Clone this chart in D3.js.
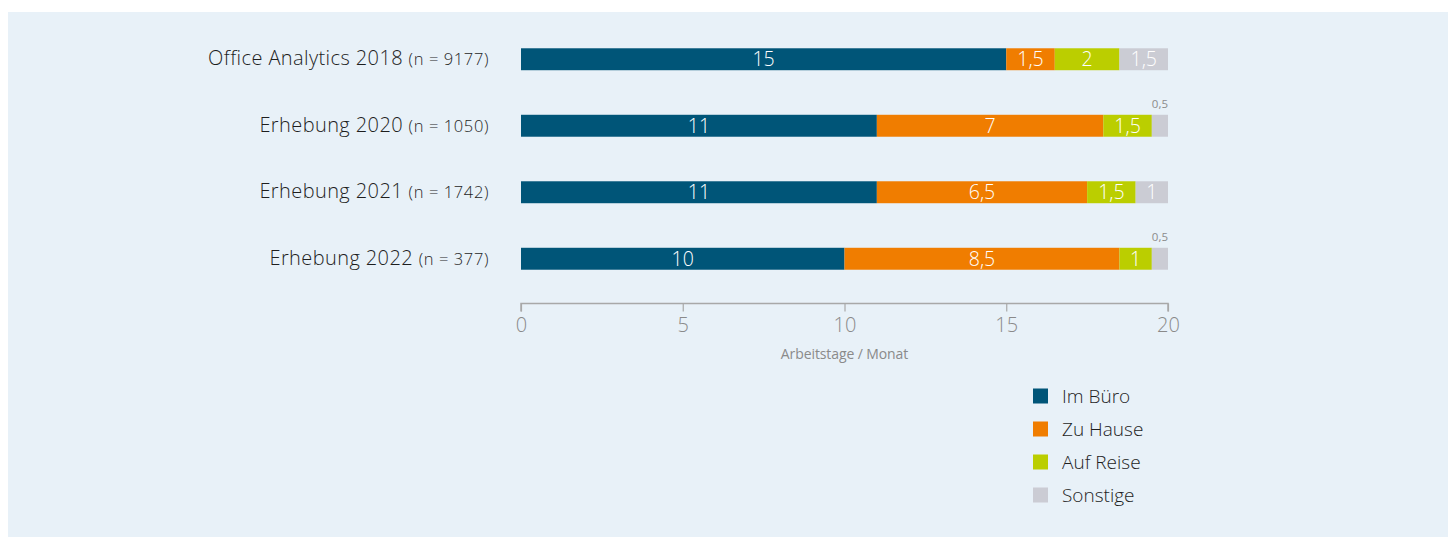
<!DOCTYPE html>
<html><head><meta charset="utf-8">
<script src="https://cdn.jsdelivr.net/npm/d3@7"></script>
<style>
html,body{margin:0;padding:0;background:#fff;}
svg{display:block;}
text{font-family:"Open Sans",sans-serif;}
</style></head>
<body>
<svg id="chart" width="1448" height="537"></svg>
<script>
const categories = ["Office Analytics 2018", "Erhebung 2020", "Erhebung 2021", "Erhebung 2022"];
const sampleSizes = ["(n = 9177)", "(n = 1050)", "(n = 1742)", "(n = 377)"];
const seriesNames = ["Im Büro", "Zu Hause", "Auf Reise", "Sonstige"];
const imBuero = [15, 11, 11, 10];
const zuHause = [1.5, 7, 6.5, 8.5];
const aufReise = [2, 1.5, 1.5, 1];
const sonstige = [1.5, 0.5, 1, 0.5];
const tickValues = [0, 5, 10, 15, 20];
const axisTitle = "Arbeitstage / Monat";
const colors = ["#005578", "#f07d00", "#bbce00", "#cbccd4"];

const svg = d3.select("#chart");
svg.append("rect").attr("x", 8).attr("y", 12).attr("width", 1440).attr("height", 525).attr("fill", "#e8f1f8");

const x = d3.scaleLinear().domain([0, 20]).range([521, 1168]);
const y = d3.scaleBand().domain(categories).range([26, 292]).paddingInner(0.67).paddingOuter(0.335);

const series = [imBuero, zuHause, aufReise, sonstige];
const fmt = v => String(v).replace(".", ",");

categories.forEach((cat, i) => {
  let acc = 0;
  series.forEach((s, k) => {
    const v = s[i];
    const x0 = x(acc), x1 = x(acc + v);
    svg.append("rect").attr("x", x0).attr("y", y(cat)).attr("width", x1 - x0).attr("height", y.bandwidth()).attr("fill", colors[k]);
    const cy = y(cat) + y.bandwidth() / 2;
    if (v >= 1) {
      svg.append("text").attr("x", (x0 + x1) / 2).attr("y", cy).attr("dy", "0.36em")
        .attr("text-anchor", "middle").attr("fill", "#fff").attr("font-size", 19.5).attr("font-weight", 300)
        .text(fmt(v));
    } else {
      svg.append("text").attr("x", (x0 + x1) / 2).attr("y", y(cat) - 7)
        .attr("text-anchor", "middle").attr("fill", "#8c8c8c").attr("font-size", 11.5).attr("font-weight", 400)
        .text(fmt(v));
    }
    acc += v;
  });
  const t = svg.append("text").attr("x", 489).attr("y", y(cat) + y.bandwidth() / 2).attr("dy", "0.36em")
    .attr("text-anchor", "end").attr("fill", "#1e1e1e");
  t.append("tspan").attr("font-size", 20).attr("font-weight", 300).attr("letter-spacing", 0.4).text(cat + " ");
  t.append("tspan").attr("font-size", 16.5).attr("font-weight", 300).attr("letter-spacing", 0.6).text(sampleSizes[i]);
});

const axis = d3.axisBottom(x).tickValues(tickValues).tickSize(8).tickPadding(6).tickFormat(d => d);
const gA = svg.append("g").attr("transform", "translate(0,303.5)").call(axis);
gA.select(".domain").attr("stroke", "#a8a8a8").attr("stroke-width", 1.5).attr("d", `M${x(0)},8V0H${x(20)}V8`);
gA.selectAll(".tick line").attr("stroke", "#a8a8a8").attr("stroke-width", 1.2);
gA.selectAll(".tick text").attr("fill", "#8a8a8a").attr("font-size", 20).attr("font-weight", 300).attr("font-family", "'Open Sans',sans-serif");

svg.append("text").attr("x", x(10)).attr("y", 359).attr("text-anchor", "middle")
  .attr("fill", "#8a8a8a").attr("font-size", 14).attr("letter-spacing", -0.1).attr("font-family", "'Open Sans',sans-serif")
  .text(axisTitle);

seriesNames.forEach((name, k) => {
  const cy = 396 + k * 33;
  svg.append("rect").attr("x", 1033).attr("y", cy - 7.5).attr("width", 15).attr("height", 15).attr("fill", colors[k]);
  svg.append("text").attr("x", 1062).attr("y", cy).attr("dy", "0.36em").attr("fill", "#1e1e1e").attr("font-size", 19).attr("font-weight", 300).text(name);
});
</script>
</body></html>
